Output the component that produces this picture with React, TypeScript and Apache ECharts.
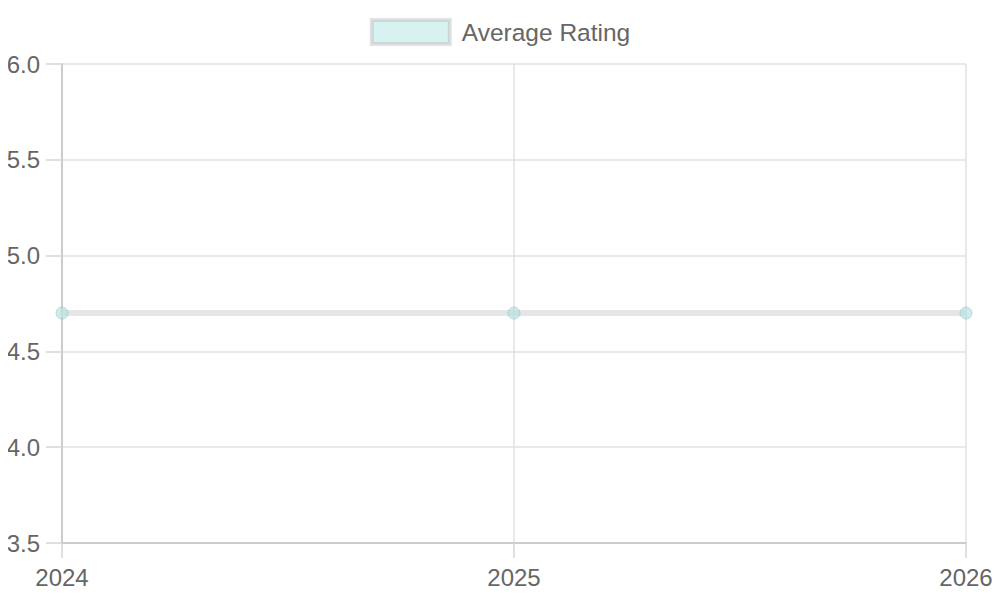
import React, { useEffect, useRef } from "react";
import * as echarts from "echarts";

const years = ["2024", "2025", "2026"];
const averageRating = [4.7, 4.7, 4.7];
const seriesName = "Average Rating";
const yTicks = { min: 3.5, max: 6.0, step: 0.5 };

const FONT = "'Liberation Sans', Arial, Helvetica, sans-serif";

export default function App() {
  const ref = useRef<HTMLDivElement>(null);
  useEffect(() => {
    if (!ref.current) return;
    const chart = echarts.init(ref.current, undefined, { renderer: "svg" });
    chart.setOption({
      animation: false,
      textStyle: { fontFamily: FONT },
      legend: {
        top: 13,
        left: "center",
        data: [seriesName],
        icon: "rect",
        itemWidth: 78,
        itemHeight: 24,
        itemStyle: {
          color: "#d8f2f1",
          borderColor: "rgba(170,170,170,0.35)",
          borderWidth: 4,
        },
        textStyle: {
          fontSize: 24.5,
          color: "#666666",
          fontFamily: FONT,
          padding: [0, 0, 0, 7],
        },
        selectedMode: false,
      },
      grid: { left: 62, right: 34, top: 64, bottom: 57 },
      xAxis: {
        type: "category",
        data: years,
        boundaryGap: false,
        axisLine: { show: true, lineStyle: { color: "#cccccc", width: 2 } },
        axisTick: { show: true, length: 15, lineStyle: { color: "#d4d4d4", width: 1.5 } },
        splitLine: { show: true, lineStyle: { color: "#e2e2e2", width: 1.5 } },
        axisLabel: { fontSize: 24, color: "#666666", margin: 22, fontFamily: FONT },
      },
      yAxis: {
        type: "value",
        min: yTicks.min,
        max: yTicks.max,
        interval: yTicks.step,
        axisLine: { show: true, lineStyle: { color: "#cccccc", width: 2 } },
        axisTick: { show: true, inside: false, length: 16, lineStyle: { color: "#d4d4d4", width: 1.5 } },
        splitLine: { show: true, lineStyle: { color: "#e2e2e2", width: 1.5 } },
        axisLabel: {
          fontSize: 24,
          color: "#666666",
          margin: 22,
          fontFamily: FONT,
          formatter: (v: number) => v.toFixed(1),
        },
      },
      series: [
        {
          name: seriesName,
          type: "line",
          data: averageRating,
          symbol: "circle",
          symbolSize: 12,
          lineStyle: { color: "#e6e6e6", width: 6 },
          itemStyle: {
            color: "rgba(175,222,222,0.6)",
            borderColor: "rgba(120,190,190,0.45)",
            borderWidth: 1,
          },
          z: 3,
        },
      ],
    });
    return () => chart.dispose();
  }, []);
  return <div ref={ref} style={{ width: 1000, height: 600, margin: -8 }} />;
}
